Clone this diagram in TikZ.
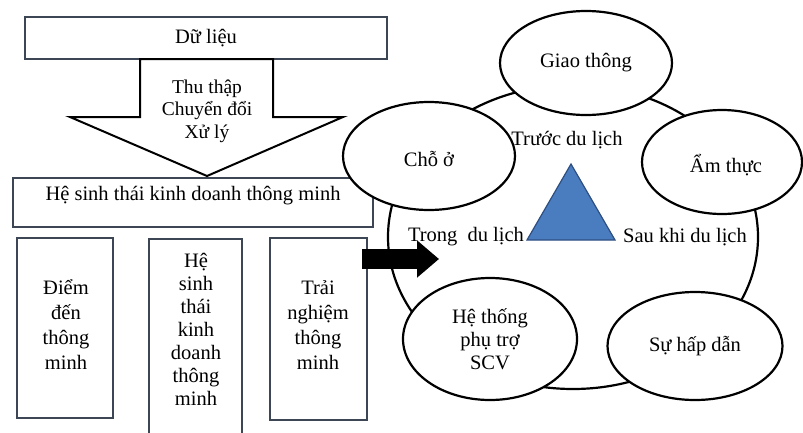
\documentclass[tikz,border=0pt]{standalone}
\usepackage{fontspec}
\setmainfont{Liberation Serif}
\usetikzlibrary{arrows.meta,shapes.geometric}
\definecolor{boxline}{HTML}{3C4654}
\definecolor{triblue}{HTML}{4A7CC0}
\definecolor{triedge}{HTML}{2D4F80}
\begin{document}
\begin{tikzpicture}[x=1pt,y=-1pt,
  txt/.style={font=\fontsize{20.5}{23}\selectfont, align=center, inner sep=0pt},
  sqbox/.style={draw=boxline, line width=2pt, fill=white, inner sep=0pt},
  oval/.style={draw=black, line width=2.2pt, fill=white, ellipse, inner sep=0pt},
]
\useasboundingbox (0,0) rectangle (803,432);

% top data box
\node[sqbox, minimum width=362pt, minimum height=42pt] (data) at (206,38) {};
\node[txt] (datat) at (data.center) {Dữ liệu};

% big down arrow
\draw[line width=2pt, fill=white, line join=miter]
  (140,59) -- (273,59) -- (273,117) -- (343,117) -- (207,176) -- (70,117) -- (140,117) -- cycle;
\node[txt, font=\fontsize{19.5}{22.5}\selectfont] (proc) at (207,111) {Thu thập\\Chuyển đổi\\Xử lý};

% ecosystem box
\node[sqbox, minimum width=360pt, minimum height=49pt] (eco) at (193,202) {};
\node[txt] (ecot) at (193,196) {Hệ sinh thái kinh doanh thông minh};

% three lower boxes
\node[sqbox, minimum width=96pt, minimum height=180pt] (b1) at (65,328) {};
\node[txt, font=\fontsize{20.5}{25}\selectfont] (b1t) at (66,325) {Điểm\\đến\\thông\\minh};
\node[sqbox, minimum width=93pt, minimum height=200pt] (b2) at (195,339) {};
\node[txt] (b2t) at (196,329) {Hệ\\sinh\\thái\\kinh\\doanh\\thông\\minh};
\node[sqbox, minimum width=97pt, minimum height=182pt] (b3) at (318,329) {};
\node[txt, font=\fontsize{20.5}{25}\selectfont] (b3t) at (318,325) {Trải\\nghiệm\\thông\\minh};

% big ring
\draw[line width=2.2pt] (573,237) ellipse [x radius=185pt, y radius=152pt];

% ellipses
\node[oval, minimum width=172pt, minimum height=104pt] (giao) at (586,63) {};
\node[txt] at (giao.center) {Giao thông};
\node[oval, minimum width=172pt, minimum height=108pt] (cho) at (429,156) {};
\node[txt] at ([yshift=-3pt]cho.center) {Chỗ ở};
\node[oval, minimum width=160pt, minimum height=104pt] (amthuc) at (722,162) {};
\node[txt] at ([xshift=4pt,yshift=-3pt]amthuc.center) {Ẩm thực};
\node[oval, minimum width=174pt, minimum height=122pt] (scv) at (490,339) {};
\node[txt] at ([yshift=0pt]scv.center) {Hệ thống\\phụ trợ\\SCV};
\node[oval, minimum width=175pt, minimum height=108pt] (hapdan) at (695,346) {};
\node[txt] at (hapdan.center) {Sự hấp dẫn};

% triangle and phase labels
\draw[fill=triblue, draw=triedge, line width=1.2pt, line join=miter]
  (571,164) -- (615,240) -- (527,240) -- cycle;
\node[txt] (truoc) at (567,140) {Trước du lịch};
\node[txt] (trong) at (466,237) {Trong\ \ du lịch};
\node[txt] (sau) at (685,237) {Sau khi du lịch};

% black block arrow
\coordinate (arrs) at (362,259);
\coordinate (arre) at (439,259);
\draw[line width=20pt, -{Triangle[width=36pt,length=22pt]}] (arrs) -- (arre);
\end{tikzpicture}
\end{document}
